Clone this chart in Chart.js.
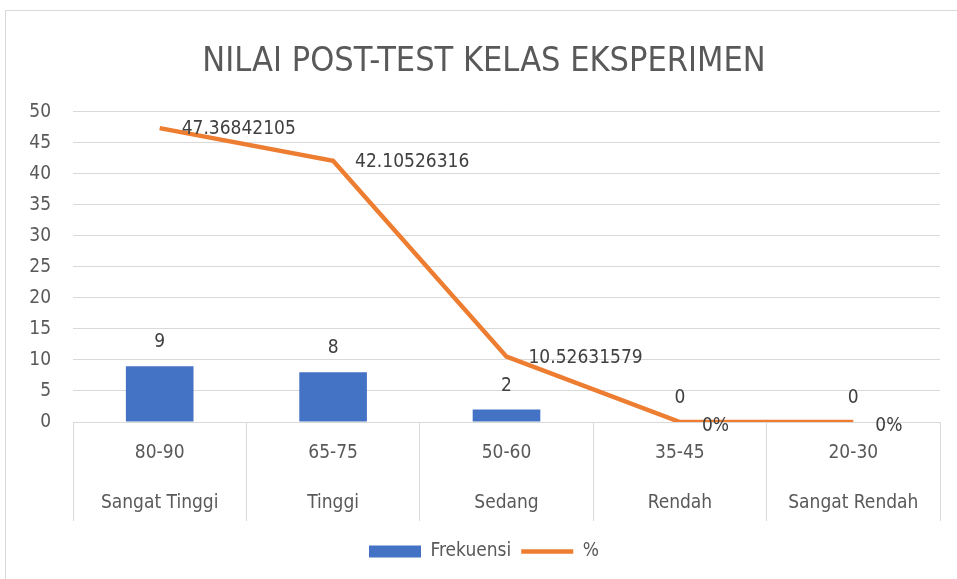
<!DOCTYPE html>
<html>
<head>
<meta charset="utf-8">
<script src="https://cdn.jsdelivr.net/npm/chart.js@4.4.1/dist/chart.umd.min.js"></script>
<style>
  html, body { margin: 0; padding: 0; background: #fff; overflow: hidden; }
  #frame { position: absolute; left: 5px; top: 10px; width: 1000px; height: 700px; border: 1px solid #d9d9d9; }
  #wrap { position: absolute; left: 0; top: 0; width: 957px; height: 579px; }
</style>
</head>
<body>
<div id="frame"></div>
<div id="wrap"><canvas id="chart"></canvas></div>
<script>
const FONT = "'Liberation Sans Narrow', 'DejaVu Sans Condensed', sans-serif";

const ranges = ["80-90", "65-75", "50-60", "35-45", "20-30"];
const levels = ["Sangat Tinggi", "Tinggi", "Sedang", "Rendah", "Sangat Rendah"];
const frekuensi = [9, 8, 2, 0, 0];
const persen = [47.36842105, 42.10526316, 10.52631579, 0, 0];

function fmtPersen(v) {
    return v === 0 ? "0%" : String(v);
}

// data labels + two-row category labels, drawn by hand (no plugins offline)
const valueLabels = {
    id: 'valueLabels',
    afterDatasetsDraw(chart) {
        const ctx = chart.ctx;
        ctx.save();
        ctx.font = "19px " + FONT;
        ctx.fillStyle = "#404040";
        ctx.textBaseline = "middle";
        chart.data.datasets.forEach((ds, i) => {
            const meta = chart.getDatasetMeta(i);
            meta.data.forEach((el, j) => {
                const v = ds.data[j];
                if (ds.type === 'bar') {
                    ctx.textAlign = "center";
                    ctx.fillText(String(v), el.x, el.y - 24);
                } else {
                    ctx.textAlign = "left";
                    ctx.fillText(fmtPersen(v), el.x + 22, el.y + (v === 0 ? 4 : 1));
                }
            });
        });

        const xs = chart.scales.x;
        ctx.fillStyle = "#595959";
        ctx.textAlign = "center";
        ranges.forEach((r, i) => {
            const px = xs.getPixelForValue(i);
            ctx.fillText(r, px, xs.top + 31);
            ctx.fillText(levels[i], px, xs.top + 81);
        });
        ctx.restore();
    }
};

new Chart(document.getElementById('chart'), {
    data: {
        labels: ranges,
        datasets: [{
            type: 'bar',
            label: 'Frekuensi',
            data: frekuensi,
            backgroundColor: '#4472C4',
            barPercentage: 0.39,
            categoryPercentage: 1,
            pointStyle: 'rect'
        }, {
            type: 'line',
            label: '%',
            data: persen,
            borderColor: '#ED7D31',
            backgroundColor: '#ED7D31',
            borderWidth: 4.5,
            pointRadius: 0,
            tension: 0,
            pointStyle: 'line'
        }]
    },
    options: {
        responsive: true,
        maintainAspectRatio: false,
        animation: false,
        layout: { padding: { left: 28, right: 17, top: 0, bottom: 8 } },
        plugins: {
            tooltip: { enabled: false },
            title: {
                display: true,
                text: 'NILAI POST-TEST KELAS EKSPERIMEN',
                color: '#595959',
                font: { family: FONT, size: 34, weight: 'normal' },
                padding: { top: 42, bottom: 29 }
            },
            legend: {
                position: 'bottom',
                labels: {
                    usePointStyle: true,
                    pointStyleWidth: 52,
                    boxHeight: 12,
                    color: '#595959',
                    font: { family: FONT, size: 19 },
                    padding: 10
                }
            }
        },
        scales: {
            x: {
                grid: {
                    offset: true,
                    drawOnChartArea: false,
                    tickLength: 99,
                    color: '#D9D9D9'
                },
                border: { color: '#D9D9D9' },
                ticks: { display: false },
                afterFit(scale) { scale.height = 110; }
            },
            y: {
                min: 0,
                max: 50,
                grid: { color: '#D9D9D9', drawTicks: false },
                border: { display: false },
                ticks: {
                    stepSize: 5,
                    color: '#595959',
                    font: { family: FONT, size: 19 },
                    padding: 22
                },
                afterFit(scale) { scale.width = 45; }
            }
        }
    },
    plugins: [valueLabels]
});
</script>
</body>
</html>
